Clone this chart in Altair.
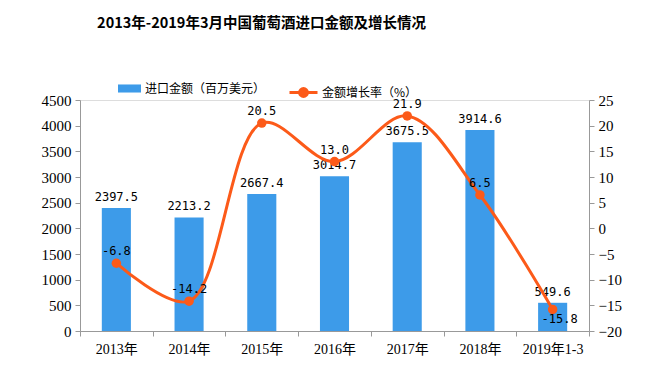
import altair as alt
import pandas as pd

years = ["2013年", "2014年", "2015年", "2016年", "2017年", "2018年", "2019年1-3"]
amount = [2397.5, 2213.2, 2667.4, 3014.7, 3675.5, 3914.6, 549.6]
growth = [-6.8, -14.2, 20.5, 13.0, 21.9, 6.5, -15.8]

BAR_NAME = "进口金额（百万美元）"
LINE_NAME = "金额增长率（%）"
BLUE = "#3d9be9"
ORANGE = "#fc5a19"
CJK = "Noto Sans CJK SC"
SERIF = "Liberation Serif, Noto Sans CJK SC"
MONO = "DejaVu Sans Mono"

df = pd.DataFrame({"year": years, "amount": amount, "growth": growth})
df["bar_series"] = BAR_NAME
df["line_series"] = LINE_NAME
df["amount_lbl"] = [f"{v:.1f}" for v in amount]
df["growth_lbl"] = [f"{v:.1f}" for v in growth]

base = alt.Chart(df)
xenc = alt.X("year:N", sort=years, title=None,
             scale=alt.Scale(paddingInner=0, paddingOuter=0),
             axis=alt.Axis(labelAngle=0, tickBand="extent", labelFont=SERIF,
                           labelFontSize=14, labelColor="#000", domainColor="#999",
                           tickColor="#999", tickSize=5, labelPadding=6))

y_left = alt.Y("amount:Q", title=None,
               scale=alt.Scale(domain=[0, 4500], nice=False),
               axis=alt.Axis(values=list(range(0, 4501, 500)), grid=False, format="d",
                             labelFont=SERIF, labelFontSize=15, labelColor="#000",
                             domainColor="#999", tickColor="#999", tickSize=5,
                             labelPadding=4))

bars = base.mark_bar(width=alt.RelativeBandSize(0.4)).encode(
    x=xenc, y=y_left,
    color=alt.Color("bar_series:N", title=None,
                    scale=alt.Scale(domain=[BAR_NAME], range=[BLUE]),
                    legend=alt.Legend(orient="none", legendX=38, legendY=-23,
                                      symbolType="M-1,-0.35H1V0.35H-1Z",
                                      symbolSize=529, symbolStrokeWidth=0,
                                      labelFont=CJK, labelFontSize=12,
                                      labelColor="#000", labelOffset=4, padding=0)),
)
bar_text = base.mark_text(baseline="bottom", dy=-4, font=MONO, fontSize=12,
                          color="#000").encode(x=xenc, y=y_left, text="amount_lbl:N")
left = alt.layer(bars, bar_text)

y_right = alt.Y("growth:Q", title=None,
                scale=alt.Scale(domain=[-20, 25], nice=False),
                axis=alt.Axis(orient="right", values=list(range(-20, 26, 5)), grid=False,
                              labelFont=SERIF, labelFontSize=15, labelColor="#000",
                              domainColor="#999", tickColor="#999", tickSize=5,
                              labelPadding=4))

line = base.mark_line(interpolate="catmull-rom", strokeWidth=3).encode(
    x=xenc, y=y_right,
    stroke=alt.Stroke("line_series:N", title=None,
                      scale=alt.Scale(domain=[LINE_NAME], range=[ORANGE]),
                      legend=alt.Legend(orient="none", legendX=208, legendY=-23,
                                        symbolType="M-1,0H1M-0.28,0A0.28,0.28 0 1,1 0.28,0A0.28,0.28 0 1,1 -0.28,0",
                                        symbolSize=784, symbolStrokeWidth=3,
                                        symbolFillColor=ORANGE,
                                        labelFont=CJK, labelFontSize=12,
                                        labelColor="#000", labelOffset=3, padding=0)),
)
points = base.mark_circle(size=90, opacity=1, color=ORANGE).encode(x=xenc, y=y_right)
line_text = base.mark_text(baseline="middle", dy=-12, font=MONO, fontSize=12,
                           color="#000").encode(x=xenc, y=y_right, text="growth_lbl:N"
                           ).transform_filter(alt.datum.year != years[-1])
line_text_last = base.mark_text(baseline="middle", dx=7, dy=10, font=MONO, fontSize=12,
                                color="#000").encode(x=xenc, y=y_right, text="growth_lbl:N"
                                ).transform_filter(alt.datum.year == years[-1])
right = alt.layer(line, points, line_text, line_text_last)

chart = alt.layer(left, right).resolve_scale(y="independent", color="independent").properties(
    width=509, height=231,
    autosize=alt.AutoSizeParams(type="none"),
    padding={"left": 72, "top": 92, "right": 53, "bottom": 29},
    title=alt.TitleParams("2013年-2019年3月中国葡萄酒进口金额及增长情况", font=CJK,
                          fontSize=14.5, fontWeight="bold", anchor="middle", frame="group",
                          dx=-73, offset=46, color="#000"),
).configure_view(strokeOpacity=0).configure(background="white")

chart.save("out.html", embed_options={"renderer": "svg", "actions": False})
